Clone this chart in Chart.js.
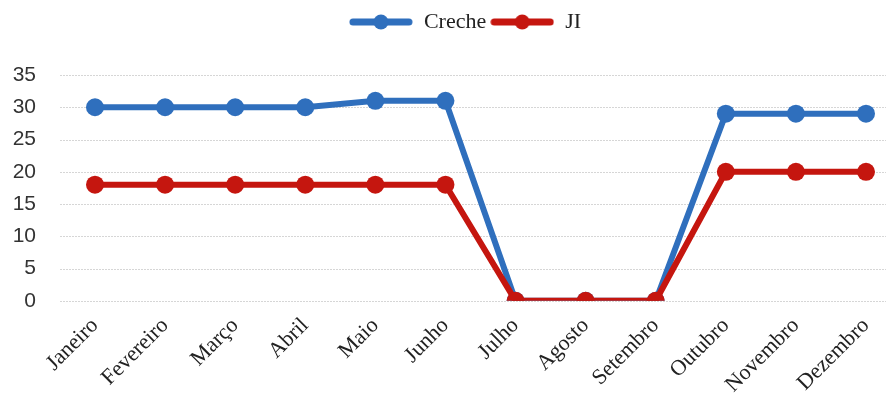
<!DOCTYPE html>
<html>
<head>
<meta charset="utf-8">
<script src="https://cdn.jsdelivr.net/npm/chart.js@4"></script>
<style>
  html, body { margin: 0; padding: 0; background: #fff; }
  #wrap { width: 891px; height: 403px; }
</style>
</head>
<body>
<div id="wrap"><canvas id="chart"></canvas></div>
<script>
const months = ["Janeiro", "Fevereiro", "Março", "Abril", "Maio", "Junho",
                "Julho", "Agosto", "Setembro", "Outubro", "Novembro", "Dezembro"];
const creche = [30, 30, 30, 30, 31, 31, 0, 0, 0, 29, 29, 29];
const ji = [18, 18, 18, 18, 18, 18, 0, 0, 0, 20, 20, 20];
const yTicks = [0, 5, 10, 15, 20, 25, 30, 35];

const BLUE = "#2f6fbd";
const RED = "#c5160f";
const SERIF = "'Liberation Serif', 'DejaVu Serif', serif";
const SANS = "'Liberation Sans', 'DejaVu Sans', sans-serif";

// legend marker: thick line with a dot in the middle
function legendMarker(color) {
    const c = document.createElement("canvas");
    c.width = 64; c.height = 18;
    const g = c.getContext("2d");
    g.strokeStyle = color;
    g.lineWidth = 7;
    g.lineCap = "round";
    g.beginPath(); g.moveTo(4, 9); g.lineTo(60, 9); g.stroke();
    g.fillStyle = color;
    g.beginPath(); g.arc(32, 9, 7.5, 0, Math.PI * 2); g.fill();
    return c;
}

// horizontal grid lines that run past the first and last point
const wideGrid = {
    id: "wideGrid",
    beforeDatasetsDraw(chart) {
        const y = chart.scales.y;
        const ctx = chart.ctx;
        ctx.save();
        ctx.strokeStyle = "#d6d6d6";
        ctx.lineWidth = 1;
        ctx.setLineDash([2, 1]);
        yTicks.forEach(v => {
            const py = Math.round(y.getPixelForValue(v)) + 0.5;
            ctx.beginPath();
            ctx.moveTo(60, py);
            ctx.lineTo(886, py);
            ctx.stroke();
        });
        ctx.restore();
    }
};

// legend sits right above the plot by default; lift it to the top edge
// and nudge it a bit right like in the original
const legendUp = {
    id: "legendUp",
    afterLayout(chart) {
        const L = chart.legend;
        const h = L.bottom - L.top;
        L.top = 7;
        L.bottom = 7 + h;
        L.left += 32;
        L.right += 32;
    }
};

new Chart(document.getElementById("chart"), {
    type: "line",
    data: {
        labels: months,
        datasets: [
            {
                label: "Creche",
                data: creche,
                borderColor: BLUE,
                backgroundColor: BLUE,
                borderWidth: 6,
                pointRadius: 9,
                pointHoverRadius: 9,
                pointBorderWidth: 0,
                tension: 0,
                order: 1,
                legendMarker: legendMarker(BLUE)
            },
            {
                label: "JI",
                data: ji,
                borderColor: RED,
                backgroundColor: RED,
                borderWidth: 6,
                pointRadius: 9,
                pointHoverRadius: 9,
                pointBorderWidth: 0,
                tension: 0,
                order: 0,
                legendMarker: legendMarker(RED)
            }
        ]
    },
    options: {
        responsive: true,
        maintainAspectRatio: false,
        animation: false,
        layout: { padding: { top: 0, right: 25, bottom: 1, left: 0 } },
        scales: {
            x: {
                offset: false,
                grid: { display: false },
                border: { display: false },
                ticks: {
                    color: "#222",
                    font: { family: SERIF, size: 22 },
                    minRotation: 45,
                    maxRotation: 45,
                    padding: 4,
                    autoSkip: false
                }
            },
            y: {
                min: 0,
                max: 35,
                grid: { display: false },
                border: { display: false },
                afterFit(scale) {
                    scale.width = 95;
                    scale.paddingTop = 75;
                    scale.paddingBottom = 12;
                },
                ticks: {
                    stepSize: 5,
                    color: "#333",
                    padding: 51,
                    font: { family: SANS, size: 21 }
                }
            }
        },
        plugins: {
            legend: {
                position: "top",
                labels: {
                    usePointStyle: true,
                    pointStyleWidth: 64,
                    color: "#222",
                    font: { family: SERIF, size: 22 },
                    padding: 4,
                    sort: (a, b) => a.datasetIndex - b.datasetIndex,
                    generateLabels(chart) {
                        return chart.data.datasets.map((ds, i) => ({
                            text: ds.label,
                            datasetIndex: i,
                            pointStyle: ds.legendMarker,
                            fontColor: "#222",
                            hidden: false,
                            lineWidth: 0
                        }));
                    }
                }
            },
            tooltip: { enabled: false }
        }
    },
    plugins: [wideGrid, legendUp]
});
</script>
</body>
</html>
